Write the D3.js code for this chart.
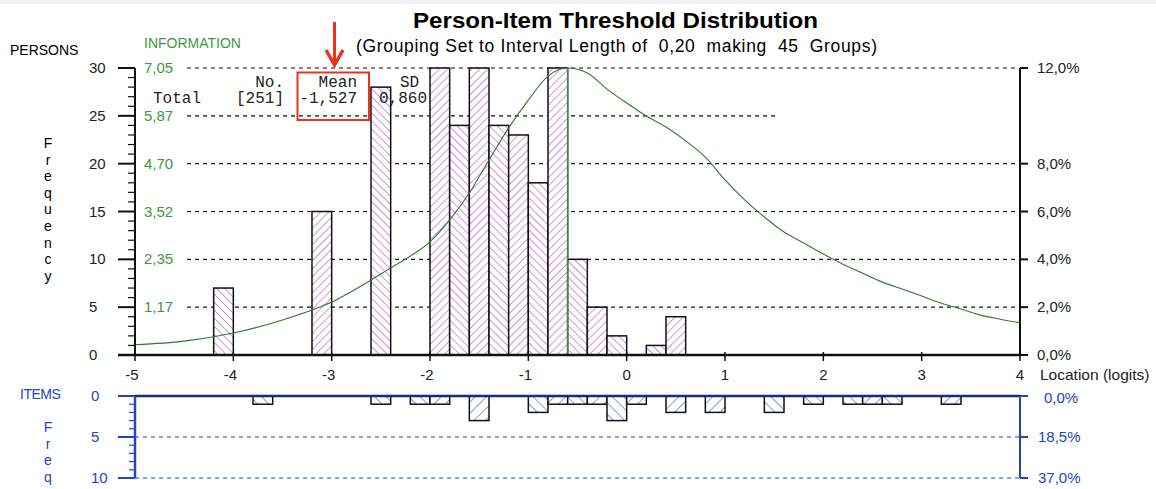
<!DOCTYPE html>
<html><head><meta charset="utf-8">
<script src="https://cdn.jsdelivr.net/npm/d3@7"></script>
<style>html,body{margin:0;padding:0;background:#fff;}svg{display:block;}</style>
</head><body>
<svg id="c" width="1156" height="489"></svg>
<script>
// ---- data ----
const binWidth = 0.2;
const personBins   = [-4.2, -3.2, -2.6, -2.0, -1.8, -1.6, -1.4, -1.2, -1.0, -0.8, -0.6, -0.4, -0.2, 0.2, 0.4];
const personCounts = [7, 15, 28, 30, 24, 30, 24, 23, 18, 30, 10, 5, 2, 1, 4];
const itemBins   = [-3.8, -2.6, -2.2, -2.0, -1.6, -1.0, -0.8, -0.6, -0.4, -0.2, 0.0, 0.4, 0.8, 1.4, 1.8, 2.2, 2.4, 2.6, 3.2];
const itemCounts = [1, 1, 1, 1, 3, 2, 1, 1, 1, 3, 1, 2, 2, 2, 1, 1, 1, 1, 1];
const infoX = [-5.0,-4.5,-4.0,-3.5,-3.0,-2.6,-2.4,-2.2,-2.0,-1.8,-1.6,-1.4,-1.2,-1.0,-0.8,-0.6,-0.4,-0.2,0.0,0.2,0.4,0.6,0.8,1.0,1.2,1.4,1.6,1.8,2.0,2.2,2.4,2.6,2.8,3.0,3.2,3.4,3.6,3.8,4.0];
const infoY = [0.25,0.34,0.54,0.86,1.30,1.84,2.14,2.43,2.78,3.32,3.98,4.79,5.58,6.26,6.85,7.05,6.93,6.53,6.19,5.87,5.60,5.26,4.86,4.30,3.81,3.39,3.02,2.75,2.48,2.23,2.01,1.79,1.62,1.45,1.27,1.13,0.98,0.88,0.79];
const infoPeak = -0.6;
const xTicks = [-5,-4,-3,-2,-1,0,1,2,3,4];
const freqTicks = [0,5,10,15,20,25,30];
const infoTickLabels = ["", "1,17", "2,35", "3,52", "4,70", "5,87", "7,05"];
const pctTickLabels  = ["0,0%", "2,0%", "4,0%", "6,0%", "8,0%", "", "12,0%"];
const itemTicks = [0,5,10];
const itemPctLabels = ["0,0%", "18,5%", "37,0%"];
const statsHeader = ["No.", "Mean", "SD"];
const statsRow = ["Total", "[251]", "-1,527", "0,860"];

// ---- layout ----
const svg = d3.select("#c");
const sans = "'Liberation Sans', Arial, sans-serif";
const mono = "'Liberation Mono', 'Courier New', monospace";
const x = d3.scaleLinear().domain([-5, 4]).range([135, 1020]);
const yF = d3.scaleLinear().domain([0, 30]).range([355, 68]);
const yInfo = d3.scaleLinear().domain([0, 7.05]).range([355, 68]);
const yI = d3.scaleLinear().domain([0, 10]).range([396, 478]);
const green = "#3c9a3c", blue = "#2545c0", navy = "#1a2a80";

svg.append("rect").attr("x",0).attr("y",0).attr("width",1156).attr("height",4).attr("fill","#f1f1f1");

const defs = svg.append("defs");
function hatch(id, color, size, angle, w){
  defs.append("pattern").attr("id", id).attr("patternUnits","userSpaceOnUse")
    .attr("width", size).attr("height", size).attr("patternTransform", `rotate(${angle})`)
    .append("line").attr("x1",0).attr("y1",0).attr("x2",0).attr("y2",size)
    .attr("stroke", color).attr("stroke-width", w);
}
hatch("pF", "#c064d4", 5.7, 45, 1.4);
hatch("pB", "#c064d4", 5.7, -45, 1.4);
hatch("iF", "#3a55c0", 8, 45, 1.2);
hatch("iB", "#3a55c0", 8, -45, 1.2);
const parity = b => Math.round((b + 5) / binWidth) % 2;

// ---- titles ----
svg.append("text").attr("x", 413).attr("y", 28).attr("textLength", 405).attr("lengthAdjust","spacingAndGlyphs")
  .style("font", `bold 22px ${sans}`).text("Person-Item Threshold Distribution");
svg.append("text").attr("x", 356).attr("y", 52).attr("textLength", 521).attr("lengthAdjust","spacing")
  .style("font", `17.5px ${sans}`).attr("xml:space","preserve").style("white-space","pre")
  .text("(Grouping Set to Interval Length of  0,20  making  45  Groups)");
svg.append("text").attr("x", 10).attr("y", 55).style("font", `14px ${sans}`).text("PERSONS");
svg.append("text").attr("x", 144).attr("y", 48).style("font", `14px ${sans}`).attr("fill", green).text("INFORMATION");
"Frequency".split("").forEach((ch, i) => {
  svg.append("text").attr("x", 48).attr("y", 148 + i * 16.6).attr("text-anchor","middle")
    .style("font", `14px ${sans}`).text(ch);
});

// ---- top gridlines ----
freqTicks.filter(t => t > 0).forEach(t => {
  svg.append("line").attr("x1", 187).attr("x2", t === 25 ? 775 : 1018)
    .attr("y1", yF(t)).attr("y2", yF(t)).attr("stroke", "#111").attr("stroke-width", 1.2)
    .attr("stroke-dasharray", "4,4");
});

// ---- person bars ----
const pb = svg.append("g");
personBins.forEach((b, i) => {
  const x0 = x(b), x1 = x(b + binWidth), y0 = yF(personCounts[i]);
  pb.append("rect").attr("x", x0).attr("y", y0).attr("width", x1 - x0).attr("height", yF(0) - y0).attr("fill", "#fff");
  pb.append("rect").attr("x", x0).attr("y", y0).attr("width", x1 - x0).attr("height", yF(0) - y0)
    .attr("fill", parity(b) ? "url(#pF)" : "url(#pB)").attr("stroke", "#111").attr("stroke-width", 1.5);
});

// ---- stats text ----
const st = svg.append("g").style("font", `16px ${mono}`).attr("fill", "#222");
st.append("text").attr("x", 284).attr("y", 87).attr("text-anchor","end").text(statsHeader[0]);
st.append("text").attr("x", 357).attr("y", 87).attr("text-anchor","end").text(statsHeader[1]);
st.append("text").attr("x", 400).attr("y", 87).text(statsHeader[2]);
st.append("text").attr("x", 153).attr("y", 103).text(statsRow[0]);
st.append("text").attr("x", 284).attr("y", 103).attr("text-anchor","end").text(statsRow[1]);
st.append("text").attr("x", 357).attr("y", 103).attr("text-anchor","end").text(statsRow[2]);
st.append("text").attr("x", 379).attr("y", 103).text(statsRow[3]);

// ---- information curve ----
svg.append("path").datum(infoX.map((v, i) => [v, infoY[i]]))
  .attr("d", d3.line().x(d => x(d[0])).y(d => yInfo(d[1])).curve(d3.curveMonotoneX))
  .attr("fill", "none").attr("stroke", "#2f7a2f").attr("stroke-width", 1.1);
svg.append("line").attr("x1", x(infoPeak)).attr("x2", x(infoPeak)).attr("y1", yF(30)).attr("y2", yF(0))
  .attr("stroke", green).attr("stroke-width", 1.2);

// ---- top axes ----
const ax = svg.append("g");
ax.append("line").attr("x1", 135).attr("x2", 135).attr("y1", yF(30)).attr("y2", yF(0)).attr("stroke","#111").attr("stroke-width",2);
ax.append("line").attr("x1", 1020).attr("x2", 1020).attr("y1", yF(30)).attr("y2", yF(0)).attr("stroke","#111").attr("stroke-width",2);
d3.range(0, 31).forEach(v => {
  const major = v % 5 === 0;
  ax.append("line").attr("x1", major ? 118 : 128).attr("x2", 135).attr("y1", yF(v)).attr("y2", yF(v))
    .attr("stroke","#111").attr("stroke-width", major ? 2 : 1.2);
});
freqTicks.forEach((t, i) => {
  ax.append("text").attr("x", 89).attr("y", yF(t) + 5).style("font", `15px ${sans}`).attr("fill","#222").text(String(t));
  if (infoTickLabels[i]) ax.append("text").attr("x", 144).attr("y", yF(t) + 5).style("font", `15px ${sans}`).attr("fill", green).text(infoTickLabels[i]);
  if (pctTickLabels[i]) {
    ax.append("line").attr("x1", 1020).attr("x2", 1028).attr("y1", yF(t)).attr("y2", yF(t)).attr("stroke","#111").attr("stroke-width",2);
    ax.append("text").attr("x", 1037).attr("y", yF(t) + 5).style("font", `15px ${sans}`).attr("fill","#222").text(pctTickLabels[i]);
  }
});
ax.append("line").attr("x1", 118).attr("x2", 1021).attr("y1", yF(0)).attr("y2", yF(0)).attr("stroke","#111").attr("stroke-width",2.5);
xTicks.forEach(t => {
  ax.append("line").attr("x1", x(t)).attr("x2", x(t)).attr("y1", yF(0) - 3).attr("y2", yF(0) + 6).attr("stroke","#111").attr("stroke-width",1.5);
  ax.append("text").attr("x", x(t) - (t < 0 ? 3 : 0)).attr("y", 380).attr("text-anchor","middle").style("font", `15px ${sans}`).attr("fill","#222").text(String(t));
});
ax.append("text").attr("x", 1040).attr("y", 380).style("font", `15.5px ${sans}`).attr("fill","#222").text("Location (logits)");

// ---- items panel ----
const ip = svg.append("g");
svg.append("text").attr("x", 20).attr("y", 399).style("font", `14px ${sans}`).attr("fill", blue).attr("letter-spacing", -0.5).text("ITEMS");
"Freq".split("").forEach((ch, i) => {
  svg.append("text").attr("x", 48).attr("y", 432 + i * 16.5).attr("text-anchor","middle")
    .style("font", `14px ${sans}`).attr("fill", blue).text(ch);
});
itemTicks.filter(t => t > 0).forEach(t => {
  ip.append("line").attr("x1", 135).attr("x2", 1020).attr("y1", yI(t)).attr("y2", yI(t))
    .attr("stroke", blue).attr("stroke-width", 1.2).attr("stroke-dasharray", "4,4");
});
itemBins.forEach((b, i) => {
  const x0 = x(b), x1 = x(b + binWidth), y1 = yI(itemCounts[i]);
  ip.append("rect").attr("x", x0).attr("y", yI(0)).attr("width", x1 - x0).attr("height", y1 - yI(0)).attr("fill", "#fff");
  ip.append("rect").attr("x", x0).attr("y", yI(0)).attr("width", x1 - x0).attr("height", y1 - yI(0))
    .attr("fill", parity(b) ? "url(#iF)" : "url(#iB)").attr("stroke", "#111").attr("stroke-width", 1.5);
});
ip.append("line").attr("x1", 135).attr("x2", 1020).attr("y1", yI(0)).attr("y2", yI(0)).attr("stroke", navy).attr("stroke-width", 2.5);
ip.append("line").attr("x1", 135).attr("x2", 135).attr("y1", yI(0)).attr("y2", yI(10)).attr("stroke", blue).attr("stroke-width", 2.5);
ip.append("line").attr("x1", 1020).attr("x2", 1020).attr("y1", yI(0)).attr("y2", yI(10)).attr("stroke", blue).attr("stroke-width", 2);
d3.range(0, 11).forEach(v => {
  const major = v % 5 === 0;
  ip.append("line").attr("x1", major ? 118 : 129).attr("x2", 135).attr("y1", yI(v)).attr("y2", yI(v))
    .attr("stroke", blue).attr("stroke-width", major ? 2 : 1.2);
});
itemTicks.forEach((t, i) => {
  ip.append("text").attr("x", 91).attr("y", yI(t) + 5).style("font", `15px ${sans}`).attr("fill", blue).text(String(t));
  ip.append("line").attr("x1", 1020).attr("x2", 1028).attr("y1", yI(t)).attr("y2", yI(t)).attr("stroke", blue).attr("stroke-width", 2);
  ip.append("text").attr("x", t === 0 ? 1044 : 1038).attr("y", yI(t) + 5 + (t === 0 ? 2 : 0)).style("font", `15px ${sans}`).attr("fill", blue).text(itemPctLabels[i]);
});

// ---- annotation (red box + arrow) ----
const red = "#e8341c";
svg.append("rect").attr("x", 297.5).attr("y", 72.5).attr("width", 71.5).attr("height", 47.5)
  .attr("fill", "none").attr("stroke", red).attr("stroke-width", 2);
svg.append("line").attr("x1", 334.5).attr("x2", 334.5).attr("y1", 22).attr("y2", 62).attr("stroke", red).attr("stroke-width", 3);
svg.append("path").attr("d", "M326,50 L334.5,65 L343,50").attr("fill", "none").attr("stroke", red).attr("stroke-width", 3.5).attr("stroke-linejoin","miter");
</script>
</body></html>
